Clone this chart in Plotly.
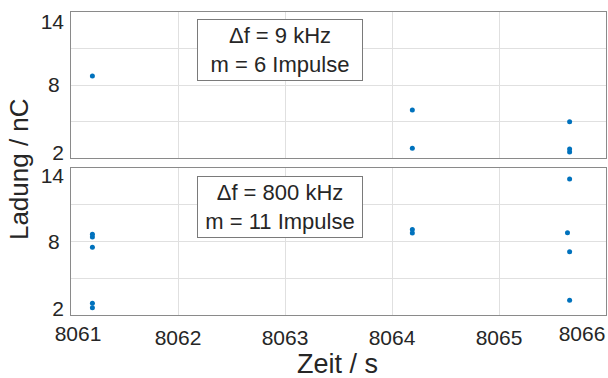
import plotly.graph_objects as go

# Charge of individual partial-discharge pulses over time
# Upper panel: delta f = 9 kHz, 6 pulses
t_9khz = [8061.20, 8064.19, 8064.19, 8065.66, 8065.66, 8065.66]
q_9khz = [8.74, 5.94, 2.80, 4.98, 2.75, 2.50]

# Lower panel: delta f = 800 kHz, 11 pulses
t_800khz = [8061.20, 8061.20, 8061.20, 8061.20, 8061.20,
            8064.19, 8064.19,
            8065.66, 8065.64, 8065.66, 8065.66]
q_800khz = [8.59, 8.37, 7.53, 2.96, 2.60,
            8.98, 8.69,
            13.10, 8.72, 7.17, 3.20]

box_texts = ["Δf = 9 kHz<br>m = 6 Impulse", "Δf = 800 kHz<br>m = 11 Impulse"]
x_ticks = [8061, 8062, 8063, 8064, 8065, 8066]
y_ticks = [2, 5, 8, 11, 14]
y_ticktext = ["", "", "8", "", ""]
x_range = [8061, 8066]
y_range = [2, 14]

FONT = "Liberation Sans, Arial, sans-serif"
BLUE = "#0072BD"
GRID = "#e0e0e0"
FRAME = "#8a8a8a"
TXT = "#262626"

fig = go.Figure()
fig.add_trace(go.Scatter(x=t_9khz, y=q_9khz, mode="markers", xaxis="x", yaxis="y",
                         marker=dict(color=BLUE, size=5), showlegend=False))
fig.add_trace(go.Scatter(x=t_800khz, y=q_800khz, mode="markers", xaxis="x2", yaxis="y2",
                         marker=dict(color=BLUE, size=5), showlegend=False))

# empty traces so the overlay axes carrying the edge tick labels get drawn
for xa, ya in [("x3", "y2"), ("x4", "y2"), ("x", "y3"), ("x", "y4"), ("x2", "y5"), ("x2", "y6")]:
    fig.add_trace(go.Scatter(x=[], y=[], mode="markers", xaxis=xa, yaxis=ya,
                             showlegend=False, hoverinfo="skip"))

top_dom = [0.518, 1.0]
bot_dom = [0.0, 0.485]

common_x = dict(range=x_range, tickvals=x_ticks, showgrid=True, gridcolor=GRID,
                zeroline=False, showline=True, linecolor=FRAME, mirror=True,
                ticks="", automargin=False, tickfont=dict(family=FONT, size=21, color=TXT))
common_y = dict(range=y_range, tickvals=y_ticks, ticktext=y_ticktext, showgrid=True,
                gridcolor=GRID, zeroline=False, showline=True, linecolor=FRAME,
                mirror=True, ticks="", ticklabelstandoff=6, automargin=False,
                tickfont=dict(family=FONT, size=21, color=TXT))

edge = dict(showgrid=False, zeroline=False, showline=False, ticks="", automargin=False,
            tickfont=dict(family=FONT, size=21, color=TXT))

fig.update_layout(
    width=608, height=378,
    margin=dict(l=71, r=2, t=12, b=63),
    paper_bgcolor="white", plot_bgcolor="white",
    xaxis=dict(**common_x, domain=[0, 1], anchor="y", showticklabels=False),
    yaxis=dict(**common_y, domain=top_dom, anchor="x"),
    xaxis2=dict(**common_x, domain=[0, 1], anchor="y2", ticktext=["", "8062", "8063", "8064", "8065", ""],
                ticklabelstandoff=4),
    yaxis2=dict(**common_y, domain=bot_dom, anchor="x2"),
    # edge tick labels nudged inside the frame
    xaxis3=dict(**edge, overlaying="x2", anchor="y2", range=x_range, tickvals=[8061],
                ticktext=["8061"], ticklabelshift=7, ticklabelstandoff=4),
    xaxis4=dict(**edge, overlaying="x2", anchor="y2", range=x_range, tickvals=[8066],
                ticktext=["8066"], ticklabelshift=-24, ticklabelstandoff=4),
    yaxis3=dict(**edge, overlaying="y", anchor="x", range=y_range, tickvals=[14],
                ticktext=["14"], ticklabelshift=10, ticklabelstandoff=6),
    yaxis4=dict(**edge, overlaying="y", anchor="x", range=y_range, tickvals=[2],
                ticktext=["2"], ticklabelshift=-5, ticklabelstandoff=6),
    yaxis5=dict(**edge, overlaying="y2", anchor="x2", range=y_range, tickvals=[14],
                ticktext=["14"], ticklabelshift=8, ticklabelstandoff=6),
    yaxis6=dict(**edge, overlaying="y2", anchor="x2", range=y_range, tickvals=[2],
                ticktext=["2"], ticklabelshift=-6, ticklabelstandoff=6),
)

# info boxes
for text, ypos in zip(box_texts, [0.8746, 0.358]):
    fig.add_annotation(text=text, xref="paper", yref="paper", x=0.3907, y=ypos,
                       xanchor="center", yanchor="middle", showarrow=False,
                       width=160, height=56, align="center",
                       bgcolor="white", bordercolor="#7a7a7a", borderwidth=1, borderpad=2,
                       font=dict(family=FONT, size=22, color=TXT))

# axis titles spanning both panels
fig.add_annotation(text="Ladung / nC", xref="paper", yref="paper", x=-0.097, y=0.482,
                   xanchor="center", yanchor="middle", textangle=-90, showarrow=False,
                   font=dict(family=FONT, size=26, color=TXT))
fig.add_annotation(text="Zeit / s", xref="paper", yref="paper", x=0.499, y=-0.162,
                   xanchor="center", yanchor="middle", showarrow=False,
                   font=dict(family=FONT, size=27, color=TXT))

fig.write_html("out.html")
